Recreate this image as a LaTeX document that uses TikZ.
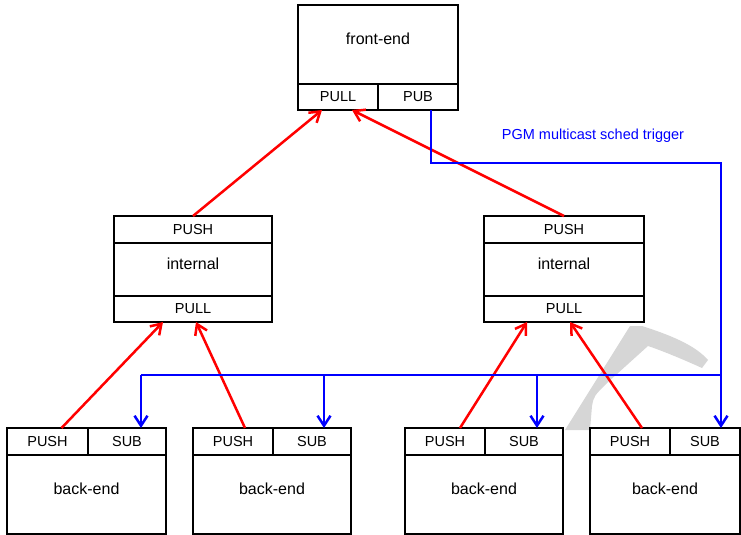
\documentclass[tikz,border=0pt]{standalone}
\usepackage{fontspec}
\setmainfont{Liberation Sans}
\usepackage{tikz}
\usetikzlibrary{arrows.meta}
\usepackage{xcolor}

\tikzset{
  box/.style={draw,line width=2.5pt,fill=white,inner sep=0pt,outer sep=0pt,font=\fontsize{16}{18}\selectfont},
  body/.style={box,text depth=12pt},
  port/.style={box,font=\fontsize{14.5}{16}\selectfont},
  pushline/.style={red,line width=2.5pt},
  trigline/.style={blue,line width=2.5pt},
}

\begin{document}
\begin{tikzpicture}[x=1pt,y=-1pt]
          \useasboundingbox (0,0) rectangle (741,535);
          % faint mark in the background
          \fill[black!16] (565,430) -- (630,326) -- (642,326) .. controls (670,335) and (695,345) .. (708,360)
            -- (702,368) .. controls (680,358) and (660,350) .. (648,346) -- (607,383)
            .. controls (594,396) .. (592,406) -- (590,430) -- cycle;
          \begin{scope}[every node/.style={box}]
            \node[body,minimum width=160pt,minimum height=79pt] (fe) at (378,44.5) {front-end};
            \node[port,minimum width=80pt,minimum height=26pt] (fepull) at (338,97) {PULL};
            \node[port,minimum width=80pt,minimum height=26pt] (fepub) at (418,97) {PUB};
            \node[port,minimum width=158pt,minimum height=27pt] (ilpush) at (193,229.5) {PUSH};
            \node[body,minimum width=158pt,minimum height=53pt] (il) at (193,269.5) {internal};
            \node[port,minimum width=158pt,minimum height=26pt] (ilpull) at (193,309) {PULL};
            \node[port,minimum width=160pt,minimum height=27pt] (irpush) at (564,229.5) {PUSH};
            \node[body,minimum width=160pt,minimum height=53pt] (ir) at (564,269.5) {internal};
            \node[port,minimum width=160pt,minimum height=26pt] (irpull) at (564,309) {PULL};
            \node[port,minimum width=81pt,minimum height=27pt] (b1push) at (47.5,441.5) {PUSH};
            \node[port,minimum width=78pt,minimum height=27pt] (b1sub) at (127,441.5) {SUB};
            \node[body,minimum width=159pt,minimum height=79pt] (b1) at (86.5,494.5) {back-end};
            \node[port,minimum width=80pt,minimum height=27pt] (b2push) at (233,441.5) {PUSH};
            \node[port,minimum width=78pt,minimum height=27pt] (b2sub) at (312,441.5) {SUB};
            \node[body,minimum width=158pt,minimum height=79pt] (b2) at (272,494.5) {back-end};
            \node[port,minimum width=80pt,minimum height=27pt] (b3push) at (445,441.5) {PUSH};
            \node[port,minimum width=78pt,minimum height=27pt] (b3sub) at (524,441.5) {SUB};
            \node[body,minimum width=158pt,minimum height=79pt] (b3) at (484,494.5) {back-end};
            \node[port,minimum width=80pt,minimum height=27pt] (b4push) at (630,441.5) {PUSH};
            \node[port,minimum width=70pt,minimum height=27pt] (b4sub) at (705,441.5) {SUB};
            \node[body,minimum width=150pt,minimum height=79pt] (b4) at (665,494.5) {back-end};
          \end{scope}
          \node[text=blue,font=\fontsize{14.5}{16}\selectfont] (trignote) at (593,136) {PGM multicast sched trigger};
          \coordinate (trig) at (721,163);
          \coordinate (tap1) at (141,375);
          \coordinate (tap2) at (324,375);
          \coordinate (tap3) at (537,375);
          \coordinate (tap4) at (721,375);
          \begin{scope}[every path/.style={pushline,->},>={Straight Barb[length=10pt,width=13pt]}]
            \draw (ilpush.north) -- ([xshift=-16pt]fepull.south);
            \draw (irpush.north) -- ([xshift=14pt]fepull.south);
            \draw ([xshift=14pt]b1push.north) -- ([xshift=-30pt]ilpull.south);
            \draw ([xshift=12pt]b2push.north) -- ([xshift=3pt]ilpull.south);
            \draw ([xshift=15pt]b3push.north) -- ([xshift=-37pt]irpull.south);
            \draw ([xshift=12pt]b4push.north) -- ([xshift=6pt]irpull.south);
          \end{scope}
          \begin{scope}[every path/.style={trigline},>={Straight Barb[length=10pt,width=13pt]}]
            \draw ([xshift=13pt]fepub.south) |- (trig) -- (tap4);
            \draw (tap1) -- (tap4);
            \draw[->] (tap1) -- (tap1 |- b1sub.north);
            \draw[->] (tap2) -- (tap2 |- b2sub.north);
            \draw[->] (tap3) -- (tap3 |- b3sub.north);
            \draw[->] (tap4) -- (tap4 |- b4sub.north);
          \end{scope}
        \end{tikzpicture}
\end{document}
